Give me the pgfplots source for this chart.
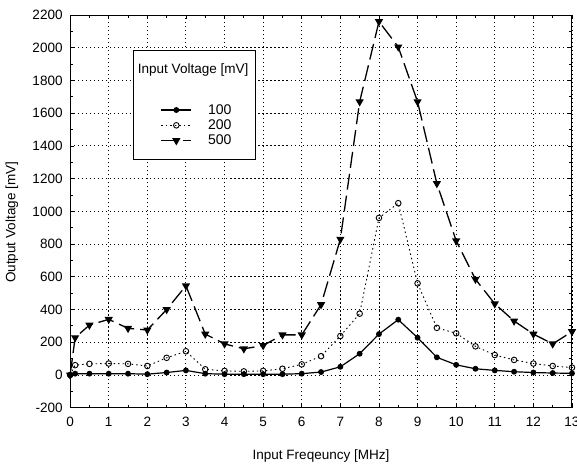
\documentclass[border=0pt]{standalone}
\usepackage{fontspec}
\setmainfont{Liberation Sans}
\usepackage{pgfplots}
\pgfplotsset{compat=1.18}

\begin{document}
\begin{tikzpicture}
\useasboundingbox (-70pt,-57pt) rectangle (506pt,407pt);
\begin{axis}[
  at={(0,0)}, anchor=south west,
  scale only axis, width=501pt, height=392pt,
  xmin=0, xmax=13, ymin=-200, ymax=2200,
  xtick={0,1,...,13},
  ytick={-200,0,200,400,600,800,1000,1200,1400,1600,1800,2000,2200},
  xticklabels={0,1,2,3,4,5,6,7,8,9,10,11,12,13},
  yticklabels={-200,0,200,400,600,800,1000,1200,1400,1600,1800,2000,2200},
  minor x tick num=1, minor y tick num=1,
  tick align=inside, major tick length=4pt, minor tick length=2.5pt,
  every tick/.style={black, line width=0.8pt},
  axis line style={line width=1pt},
  grid=major,
  major grid style={black, line width=0.9pt, dash pattern=on 1.1pt off 2.9pt},
  tick label style={font=\fontsize{13.5}{15}\selectfont},
  xticklabel style={yshift=-6pt},
  yticklabel style={xshift=-4pt},
  xlabel={Input Freqeuncy [MHz]}, ylabel={Output Voltage [mV]},
  label style={font=\fontsize{13.5}{15}\selectfont},
  x label style={at={(axis description cs:0.5,-0.122)}, anchor=center},
  y label style={at={(axis description cs:-0.116,0.472)}, anchor=center},
  legend cell align=left,
  legend style={at={(0.1257,0.9107)}, anchor=north west, draw=black,
    line width=0.8pt, fill=white, font=\fontsize{14}{16}\selectfont,
    inner xsep=5pt, inner ysep=11pt, row sep=0pt, column sep=14pt},
  legend image code/.code={
    \path (-22pt,0pt);
    \draw[mark repeat=2,mark phase=2,#1] plot coordinates {(0pt,0pt) (15pt,0pt) (30pt,0pt)};
  },
]
\addlegendimage{empty legend}
\addlegendentry{\hspace*{-70pt}\fontsize{13.5}{15}\selectfont Input Voltage [mV]}
\addlegendimage{empty legend}
\addlegendentry{\rule{0pt}{20pt}}

\addplot[black, line width=1.2pt, mark=*, mark size=2.3pt] coordinates {
(0,0) (0.13,8) (0.5,8) (1,8) (1.5,8) (2,5) (2.5,15) (3,28) (3.5,8) (4,5)
(4.5,5) (5,5) (5.5,5) (6,8) (6.5,18) (7,50) (7.5,130) (8,250) (8.5,338)
(9,228) (9.5,108) (10,62) (10.5,38) (11,28) (11.5,20) (12,15) (12.5,12) (13,10)};
\addlegendentry{100}

\addplot[black, line width=0.9pt, dash pattern=on 1.5pt off 3pt, mark=o, mark size=2.8pt,
  mark options={solid, fill=white, line width=0.9pt}] coordinates {
(0,0) (0.13,60) (0.5,68) (1,70) (1.5,68) (2,55) (2.5,105) (3,145) (3.5,35) (4,25)
(4.5,22) (5,25) (5.5,38) (6,65) (6.5,115) (7,238) (7.5,375) (8,960) (8.5,1050)
(9,560) (9.5,288) (10,255) (10.5,175) (11,122) (11.5,92) (12,70) (12.5,55) (13,45)};
\addlegendentry{200}

\addplot[black, line width=1.3pt, dash pattern=on 16pt off 6pt, mark=triangle*, mark size=3.5pt,
  mark options={solid, rotate=180}] coordinates {
(0,0) (0.13,228) (0.5,305) (1,340) (1.5,285) (2,275) (2.5,400) (3,545) (3.5,250) (4,190)
(4.5,160) (5,180) (5.5,245) (6,245) (6.5,430) (7,830) (7.5,1670) (8,2160) (8.5,2005)
(9,1670) (9.5,1170) (10,820) (10.5,585) (11,435) (11.5,330) (12,250) (12.5,190) (13,265)};
\addlegendentry{500}
\end{axis}
\end{tikzpicture}
\end{document}
